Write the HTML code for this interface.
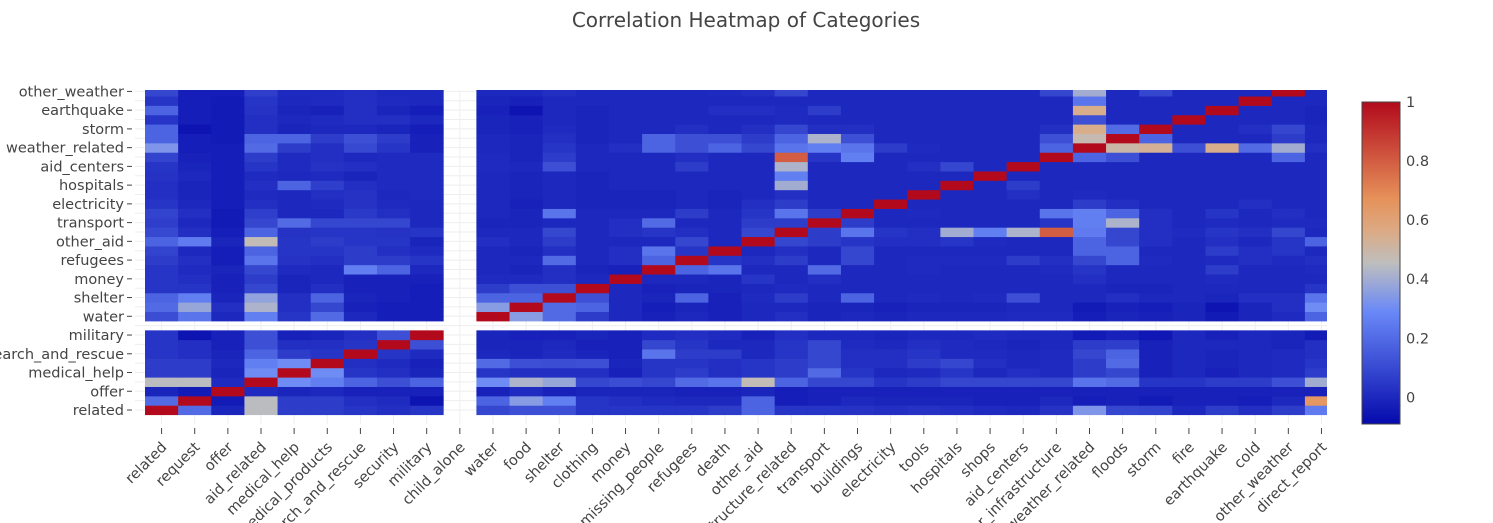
<!DOCTYPE html>
<html><head><meta charset="utf-8">
<style>
html,body{margin:0;padding:0;width:1493px;height:523px;overflow:hidden;background:#fff;font-family:"DejaVu Sans",sans-serif;}
svg{display:block;overflow:hidden;}
svg text{font-family:"DejaVu Sans",sans-serif;fill:#444;}
</style></head>
<body>
<svg id="chart" width="1493" height="523" xmlns="http://www.w3.org/2000/svg">
<defs>
<clipPath id="plotclip"><rect x="135" y="90" width="1192" height="334"/></clipPath>
<clipPath id="frameclip"><rect x="0" y="0" width="1493" height="523"/></clipPath>
<linearGradient id="cbgrad" x1="0" y1="1" x2="0" y2="0">
<stop offset="0" stop-color="rgb(5,10,172)"/>
<stop offset="0.35" stop-color="rgb(106,137,247)"/>
<stop offset="0.5" stop-color="rgb(190,190,190)"/>
<stop offset="0.6" stop-color="rgb(220,170,132)"/>
<stop offset="0.7" stop-color="rgb(230,145,90)"/>
<stop offset="1" stop-color="rgb(178,10,28)"/>
</linearGradient>
</defs>
<text x="746" y="27" text-anchor="middle" font-size="20">Correlation Heatmap of Categories</text>
<g id="grid"></g>
<g id="cells" clip-path="url(#plotclip)"></g>
<g id="xaxis" clip-path="url(#frameclip)"></g>
<g id="yaxis" clip-path="url(#frameclip)"></g>
<g id="colorbar">
<rect x="1362" y="102" width="38" height="322" fill="url(#cbgrad)" stroke="#444" stroke-width="1"/>
</g>
</svg>
<script>
const xCategories = ["related","request","offer","aid_related","medical_help","medical_products","search_and_rescue","security","military","child_alone","water","food","shelter","clothing","money","missing_people","refugees","death","other_aid","infrastructure_related","transport","buildings","electricity","tools","hospitals","shops","aid_centers","other_infrastructure","weather_related","floods","storm","fire","earthquake","cold","other_weather","direct_report"];
const yCategories = xCategories.slice(0,35);
const colorTicks = [0,0.2,0.4,0.6,0.8,1];
const zMin = -0.09, zMax = 1;
const corrValues = [
[1,.2,-.01,.45,.06,.06,.04,.02,.04,null,.09,.12,.12,.04,.04,.04,.04,.06,.18,.04,.04,.03,.02,.03,.02,.01,0,.03,.33,.09,.08,0,.06,.02,.06,.25],
[.2,1,-.04,.45,.06,.06,.02,.01,-.06,null,.18,.35,.26,.04,.02,.01,0,0,.18,-.03,-.02,0,-.01,-.01,-.01,-.02,-.02,0,-.03,-.02,-.04,-.02,-.02,-.03,0,.65],
[-.01,-.04,1,.01,-.01,0,-.02,-.02,-.02,null,-.02,.01,-.02,-.01,-.01,-.01,-.02,-.02,-.01,-.03,-.02,-.02,-.02,-.02,-.02,-.02,-.02,-.02,-.02,-.02,-.02,-.02,-.02,-.02,-.02,-.02],
[.45,.45,.01,1,.3,.26,.18,.12,.18,null,.3,.42,.38,.09,.11,.09,.2,.23,.47,.18,.09,.09,.04,.06,.09,.09,.09,.09,.23,.2,.04,.04,.06,.06,.12,.4],
[.06,.06,-.01,.3,1,.3,.04,.02,-.01,null,.04,.02,.02,.02,-.02,.04,.06,.02,.04,.06,.2,.04,0,.01,.04,0,.02,.01,.06,.09,-.02,0,-.02,0,.01,.06],
[.06,.06,0,.26,.3,1,.02,.01,-.02,null,.2,.12,.11,.12,-.01,.04,.04,.02,.04,.06,.09,.02,.02,.06,.09,.02,0,.01,.06,.2,-.02,0,-.01,0,.01,.04],
[.04,.02,-.01,.18,.06,.04,1,.04,.01,null,0,-.01,.01,-.01,-.02,.23,.06,.06,0,.04,.09,.02,.02,.04,.01,.01,0,.01,.09,.18,-.02,0,-.01,0,.01,.02],
[.04,.02,-.02,.12,.02,.02,.04,1,.12,null,-.01,-.01,0,-.02,-.02,.09,.04,0,0,.04,.09,.01,0,.02,.01,0,-.01,0,.06,.07,-.02,0,0,0,-.01,.02],
[.04,-.06,-.02,.12,-.02,-.01,.02,.12,1,null,-.01,-.02,-.02,-.01,-.02,.01,.02,.01,-.02,.02,0,0,-.01,0,0,.01,0,0,-.04,-.02,-.05,0,-.02,0,-.01,-.04],
[null,null,null,null,null,null,null,null,null,null,null,null,null,null,null,null,null,null,null,null,null,null,null,null,null,null,null,null,null,null,null,null,null,null,null,null],
[.11,.23,0,.26,.04,.2,0,-.03,-.03,null,1,.35,.2,.06,0,-.02,0,-.02,0,.02,-.01,0,-.01,0,0,0,.01,.01,-.03,-.01,-.02,-.01,-.04,-.01,.01,.18],
[.2,.38,.02,.42,.02,.09,-.02,-.03,-.03,null,.35,1,.2,.18,0,-.03,-.01,-.02,0,0,-.01,-.01,-.02,-.01,-.01,-.01,0,0,-.04,-.02,-.03,-.01,-.06,-.01,.02,.3],
[.18,.26,-.01,.37,.02,.18,-.01,-.02,-.03,null,.18,.18,1,.12,0,-.01,.18,-.02,.01,.06,0,.18,0,.01,0,.01,.12,0,0,.02,0,0,-.01,.02,.02,.23],
[.04,.04,-.02,.09,-.01,.02,-.02,-.02,-.03,null,.06,.12,.12,1,0,-.02,-.01,-.01,0,.01,0,0,0,0,0,0,0,0,0,-.01,-.01,0,0,0,0,.04],
[.04,.02,-.02,.06,-.01,0,-.02,-.02,-.02,null,.01,.01,.02,0,1,0,0,-.01,.04,0,.02,0,0,0,0,0,0,0,.02,0,0,0,.01,0,0,0],
[.04,.01,-.01,.09,.01,0,.26,.18,0,null,0,-.01,.02,-.01,-.02,1,.18,.23,0,0,.2,0,0,.01,0,0,0,.01,.04,0,0,0,.06,0,0,.01],
[.06,.02,-.03,.23,.03,.02,.06,.06,.04,null,0,0,.2,0,.02,.18,1,.04,.02,.06,0,.09,0,.01,.01,.01,.06,.02,.09,.18,.01,0,.01,.02,.01,.02],
[.08,0,-.03,.18,.04,.04,.06,.02,.01,null,0,-.01,.02,0,.02,.23,.04,1,0,.02,0,.09,0,0,0,0,0,0,.18,.18,0,0,.06,.02,.04,0],
[.18,.25,-.01,.47,.04,.06,.04,.04,-.01,null,.02,0,.06,0,0,0,.09,0,1,.09,.06,.04,.02,.02,.04,.01,0,0,.18,.09,.02,0,.02,0,.04,.18],
[.1,.02,-.03,.18,.03,.04,.04,.03,.04,null,0,0,.09,0,.02,.04,.02,0,.09,1,.06,.23,.04,.02,.4,.26,.42,.8,.25,.09,.02,.01,.04,.02,.09,0],
[.07,0,-.04,.09,.2,.09,.09,.09,0,null,-.01,-.01,0,0,.02,.2,0,0,.06,.06,1,.06,0,0,0,0,0,.04,.26,.42,.02,0,.01,0,.01,.01],
[.08,.02,-.04,.07,0,0,.05,.02,0,null,0,-.01,.23,0,0,0,.06,0,.04,.23,.06,1,0,.01,0,0,0,.23,.26,.18,.02,0,.04,0,.02,0],
[.04,0,-.03,.02,0,.01,.03,.01,0,null,0,-.02,0,-.01,-.01,-.01,0,-.01,.02,.06,0,0,1,0,0,0,0,0,.06,.02,0,0,0,.02,0,0],
[.02,-.01,-.03,.01,0,.02,.03,0,.01,null,0,-.01,0,-.01,-.01,-.01,0,-.01,0,.02,0,0,0,1,0,0,.02,0,.01,0,0,0,0,0,0,0],
[.02,-.01,-.03,.02,.18,.07,.02,.01,.01,null,0,-.01,0,-.01,0,0,0,0,0,.4,0,0,0,0,1,0,.06,0,0,0,0,0,0,0,0,0],
[.03,0,-.03,.01,0,.01,-.01,.01,.01,null,0,-.01,0,-.01,0,0,0,0,0,.26,0,0,0,0,0,1,0,0,0,0,0,0,0,0,0,0],
[.04,-.01,-.03,.04,.01,.03,.02,.01,.01,null,.01,0,.12,0,0,0,.06,0,0,.42,0,0,0,.02,.09,0,1,0,0,0,0,0,0,0,0,0],
[.08,-.02,-.03,.06,.01,.02,0,.01,.01,null,.01,-.01,.06,0,0,0,.02,0,0,.8,.04,.26,0,0,0,0,0,1,.18,.12,0,0,0,0,.18,0],
[.33,-.03,-.03,.2,.06,.02,.1,.04,-.02,null,0,-.01,.04,0,.02,.18,.12,.18,.09,.23,.26,.23,.06,.01,0,0,0,.18,1,.5,.53,.12,.55,.2,.4,.02],
[.18,-.03,-.04,.18,.18,.06,.12,.06,-.02,null,0,-.01,.02,-.01,0,.18,.12,.12,.06,.18,.42,.12,0,0,0,0,0,.12,.48,1,.18,0,0,0,.06,0],
[.18,-.06,-.04,.02,-.01,0,0,-.01,-.03,null,-.01,-.02,.01,-.01,0,0,.02,0,.02,.09,.02,.02,0,0,0,0,0,.02,.55,.2,1,0,0,.02,.09,0],
[.04,-.03,-.04,.02,0,.01,.02,.02,0,null,-.01,-.02,0,-.01,0,0,0,0,0,.01,0,0,0,0,0,0,0,0,.12,0,0,1,0,0,0,-.01],
[.18,-.03,-.04,.03,-.01,-.02,.02,-.01,-.03,null,-.02,-.06,0,-.01,0,0,0,.02,.02,.01,.06,0,0,0,0,0,0,0,.55,0,0,0,1,0,0,-.01],
[.04,-.03,-.04,.04,0,.01,.02,.01,0,null,-.01,-.02,0,0,0,0,0,0,0,0,0,0,0,0,0,0,0,0,.23,0,0,0,0,1,0,0],
[.09,-.03,-.03,.07,.01,.01,.02,0,0,null,0,0,.02,0,0,0,0,.01,.02,.09,0,0,0,0,0,0,0,.09,.4,0,.09,0,0,0,1,0]
];

const NS = "http://www.w3.org/2000/svg";
const X0 = 145, CW = 33.14, YC0 = 410, RH = 9.37;
const PLOT_TOP = 90, PLOT_BOT = 424, PLOT_RIGHT = 1327;
const CB_TOP = 102, CB_BOT = 424;
function xCenter(i){ return X0 + (i + 0.5) * CW; }
function yCenter(j){ return YC0 - j * RH; }
function cbY(v){ return CB_BOT - (v - zMin) / (zMax - zMin) * (CB_BOT - CB_TOP); }
const stops = [[0,[5,10,172]],[0.35,[106,137,247]],[0.5,[190,190,190]],[0.6,[220,170,132]],[0.7,[230,145,90]],[1,[178,10,28]]];
function colorFor(v){
  let t = (v - zMin) / (zMax - zMin); t = Math.max(0, Math.min(1, t));
  for (let k = 1; k < stops.length; k++){
    if (t <= stops[k][0]){
      const a = stops[k-1], b = stops[k]; const f = (t - a[0]) / (b[0] - a[0]);
      const c = a[1].map((x, i) => Math.round(x + (b[1][i] - x) * f));
      return "rgb(" + c.join(",") + ")";
    }
  }
  return "rgb(178,10,28)";
}
function mk(tag, attrs){ const e = document.createElementNS(NS, tag); for (const k in attrs) e.setAttribute(k, attrs[k]); return e; }

const grid = document.getElementById("grid");
xCategories.forEach((c, i) => {
  const x = xCenter(i); if (x > PLOT_RIGHT) return;
  const l = mk("line", {x1:x, x2:x, y1:PLOT_TOP, y2:PLOT_BOT, stroke:"#eee", "stroke-width":1});
  
  
  grid.appendChild(l);
});
yCategories.forEach((c, j) => {
  const y = yCenter(j); if (y < PLOT_TOP) return;
  const l = mk("line", {x1:135, x2:PLOT_RIGHT, y1:y, y2:y, stroke:"#eee", "stroke-width":1});
  
  
  grid.appendChild(l);
});

const cells = document.getElementById("cells");
corrValues.forEach((row, j) => {
  row.forEach((v, i) => {
    if (v === null || v === undefined) return;
    const r = mk("rect", {x: xCenter(i) - CW/2, y: yCenter(j) - RH/2, width: CW + 0.4, height: RH + 0.4, fill: colorFor(v)});
    
    
    cells.appendChild(r);
  });
});

const xaxis = document.getElementById("xaxis");
xCategories.forEach((c, i) => {
  const x = xCenter(i);
  const t = mk("line", {x1:x, x2:x, y1:428, y2:434, stroke:"#444", "stroke-width":1});
  
  
  xaxis.appendChild(t);
  const ax = x + 6, ay = 448;
  const lb = mk("text", {x: ax, y: ay, "font-size": 14.5, "text-anchor": "end", transform: "rotate(-45 " + ax + " " + ay + ")"});
  lb.textContent = c;
  
  
  xaxis.appendChild(lb);
});

const yaxis = document.getElementById("yaxis");
yCategories.forEach((c, j) => {
  if (j % 2 !== 0) return;
  const y = yCenter(j);
  const t = mk("line", {x1:127, x2:132, y1:y, y2:y, stroke:"#444", "stroke-width":1});
  
  
  yaxis.appendChild(t);
  const lb = mk("text", {x: 124, y: y + 5, "font-size": 14.5, "text-anchor": "end"});
  lb.textContent = c;
  
  
  yaxis.appendChild(lb);
});

const cb = document.getElementById("colorbar");
colorTicks.forEach(v => {
  const y = cbY(v);
  const lb = mk("text", {x: 1406, y: y + 5, "font-size": 14.5});
  lb.textContent = String(v);
  
  
  cb.appendChild(lb);
});
</script>
</body></html>
